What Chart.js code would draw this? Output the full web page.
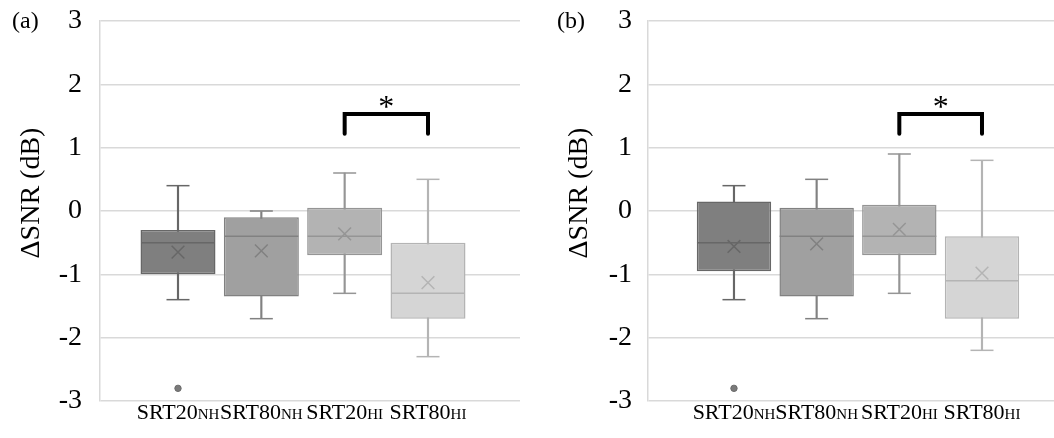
<!DOCTYPE html>
<html>
<head>
<meta charset="utf-8">
<script src="https://cdn.jsdelivr.net/npm/chart.js@4.4.0/dist/chart.umd.min.js"></script>
<style>
  body { margin: 0; background: #fff; width: 1054px; height: 438px; position: relative; overflow: hidden; font-family: "Liberation Serif", serif; }
  .panel { position: absolute; top: 0; }
  .tag { position: absolute; top: 7px; font-size: 24px; color: #000; }
</style>
</head>
<body>
<div class="panel" style="left:0"><canvas id="chartA" width="540" height="438"></canvas></div>
<div class="panel" style="left:540px"><canvas id="chartB" width="514" height="438"></canvas></div>
<div class="tag" style="left:12px">(a)</div>
<div class="tag" style="left:557px">(b)</div>
<script>
// categories (label + subscript group)
const categories = ['SRT20', 'SRT80', 'SRT20', 'SRT80'];
const groups = ['NH', 'NH', 'HI', 'HI'];
const yTitle = 'ΔSNR (dB)';

// panel (a) box stats
const minA = [-1.4, -1.7, -1.3, -2.3];
const q1A = [-1.0, -1.35, -0.7, -1.7];
const medA = [-0.5, -0.4, -0.4, -1.3];
const q3A = [-0.3, -0.1, 0.05, -0.5];
const maxA = [0.4, 0.0, 0.6, 0.5];
const meanA = [-0.65, -0.63, -0.36, -1.13];
const outA = [-2.8, null, null, null];

// panel (b) box stats
const minB = [-1.4, -1.7, -1.3, -2.2];
const q1B = [-0.95, -1.35, -0.7, -1.7];
const medB = [-0.5, -0.4, -0.4, -1.1];
const q3B = [0.15, 0.05, 0.1, -0.4];
const maxB = [0.4, 0.5, 0.9, 0.8];
const meanB = [-0.56, -0.52, -0.29, -0.98];
const outB = [-2.8, null, null, null];

// significance bracket between categories 3 and 4
const sigPair = [3, 4];
const sigTop = 1.53;
const sigLeg = 1.22;
const sigMark = '*';

const fills = ['#7f7f7f', '#a0a0a0', '#b3b3b3', '#d5d5d5'];
const borders = ['#676767', '#818181', '#959595', '#b4b4b4'];
const serif = '"Liberation Serif", "Times New Roman", serif';

const labelPlugin = {
  id: 'groupLabels',
  afterDraw(chart, args, opts) {
    const ctx = chart.ctx;
    const xs = chart.scales.x;
    const ys = chart.scales.y;
    const area = chart.chartArea;
    ctx.save();
    ctx.fillStyle = '#000';
    ctx.textBaseline = 'alphabetic';
    categories.forEach(function (name, i) {
      ctx.font = '22px ' + serif;
      const w1 = ctx.measureText(name).width;
      ctx.font = '15px ' + serif;
      const w2 = ctx.measureText(groups[i]).width;
      const left = xs.getPixelForValue(i + 1) - (w1 + w2) / 2;
      ctx.font = '22px ' + serif;
      ctx.fillText(name, left, area.bottom + 18);
      ctx.font = '15px ' + serif;
      ctx.fillText(groups[i], left + w1, area.bottom + 18);
    });
    // star above the bracket
    ctx.font = '32px ' + serif;
    ctx.textAlign = 'center';
    const mid = xs.getPixelForValue((sigPair[0] + sigPair[1]) / 2);
    ctx.fillText(sigMark, mid, ys.getPixelForValue(sigTop) + 3);
    // y axis title
    ctx.font = '28px ' + serif;
    ctx.textBaseline = 'middle';
    ctx.translate(opts.titleX, (area.top + area.bottom) / 2 - 18);
    ctx.rotate(-Math.PI / 2);
    ctx.fillText(yTitle, 0, 0);
    ctx.restore();
  }
};

function makePanel(id, s, cfg) {
  const xs = categories.map(function (c, i) { return i + 1; });
  const pts = function (arr) {
    return xs.map(function (x, i) { return { x: x, y: arr[i] }; });
  };
  const outliers = [];
  s.out.forEach(function (v, i) { if (v !== null) outliers.push({ x: i + 1, y: v }); });

  new Chart(document.getElementById(id), {
    type: 'bar',
    data: {
      datasets: [
        {
          // box Q1..Q3
          label: 'box',
          data: xs.map(function (x, i) { return { x: x, y: [s.q1[i], s.q3[i]] }; }),
          backgroundColor: fills,
          borderColor: borders,
          borderWidth: 1.5,
          borderSkipped: false,
          grouped: false,
          categoryPercentage: 1,
          barPercentage: 0.9,
          order: 3
        },
        {
          // whisker min..max, behind the box
          label: 'whisker',
          data: xs.map(function (x, i) { return { x: x, y: [s.min[i], s.max[i]] }; }),
          backgroundColor: borders,
          borderWidth: 0,
          grouped: false,
          barThickness: 1.5,
          order: 4
        },
        {
          label: 'capTop',
          type: 'scatter',
          data: pts(s.max),
          pointStyle: 'line',
          pointRadius: 11.5,
          pointBorderColor: borders,
          pointBorderWidth: 1.5,
          order: 2
        },
        {
          label: 'capBottom',
          type: 'scatter',
          data: pts(s.min),
          pointStyle: 'line',
          pointRadius: 11.5,
          pointBorderColor: borders,
          pointBorderWidth: 1.5,
          order: 2
        },
        {
          label: 'median',
          type: 'scatter',
          data: pts(s.med),
          pointStyle: 'line',
          pointRadius: 37,
          pointBorderColor: borders,
          pointBorderWidth: 1.5,
          order: 1
        },
        {
          label: 'mean',
          type: 'scatter',
          data: pts(s.mean),
          pointStyle: 'crossRot',
          pointRadius: 9,
          pointBorderColor: borders,
          pointBorderWidth: 1.5,
          order: 1
        },
        {
          label: 'outlier',
          type: 'scatter',
          data: outliers,
          pointStyle: 'circle',
          pointRadius: 3.2,
          pointBackgroundColor: '#7a7a7a',
          pointBorderColor: '#6a6a6a',
          pointBorderWidth: 1,
          order: 1
        },
        {
          label: 'bracket',
          type: 'line',
          data: [
            { x: sigPair[0], y: sigLeg },
            { x: sigPair[0], y: sigTop },
            { x: sigPair[1], y: sigTop },
            { x: sigPair[1], y: sigLeg }
          ],
          borderColor: '#000',
          borderWidth: 4,
          borderCapStyle: 'round',
          borderJoinStyle: 'miter',
          pointRadius: 0,
          fill: false,
          tension: 0,
          order: 0
        }
      ]
    },
    options: {
      responsive: false,
      animation: false,
      events: [],
      layout: {
        autoPadding: false,
        padding: { left: 0, right: cfg.right, top: 21, bottom: 37 }
      },
      scales: {
        x: {
          type: 'linear',
          display: false,
          min: cfg.xMin,
          max: cfg.xMax,
          offset: false,
          ticks: { display: false },
          afterBuildTicks: function (scale) {
            scale.ticks = xs.map(function (v) { return { value: v }; });
          },
          afterFit: function (scale) {
            scale.paddingLeft = 0;
            scale.paddingRight = 0;
          }
        },
        y: {
          min: -3,
          max: 3,
          afterFit: function (scale) {
            scale.width = cfg.yWidth;
            scale.paddingTop = 0;
            scale.paddingBottom = 0;
          },
          ticks: {
            stepSize: 1,
            padding: cfg.tickPad,
            color: '#000',
            font: { family: serif, size: 28 }
          },
          grid: {
            color: '#d9d9d9',
            lineWidth: 1.5,
            drawTicks: false
          },
          border: { display: true, color: '#d9d9d9', width: 1.5 }
        }
      },
      plugins: {
        legend: { display: false },
        tooltip: { enabled: false },
        groupLabels: { titleX: cfg.titleX }
      }
    },
    plugins: [labelPlugin]
  });
}

makePanel('chartA',
  { min: minA, q1: q1A, med: medA, q3: q3A, max: maxA, mean: meanA, out: outA },
  { xMin: 0.064, xMax: 5.104, yWidth: 100, right: 20, tickPad: 18, titleX: 32 });

makePanel('chartB',
  { min: minB, q1: q1B, med: medB, q3: q3B, max: maxB, mean: meanB, out: outB },
  { xMin: -0.04, xMax: 4.871, yWidth: 108, right: 0, tickPad: 16, titleX: 40 });
</script>
</body>
</html>
